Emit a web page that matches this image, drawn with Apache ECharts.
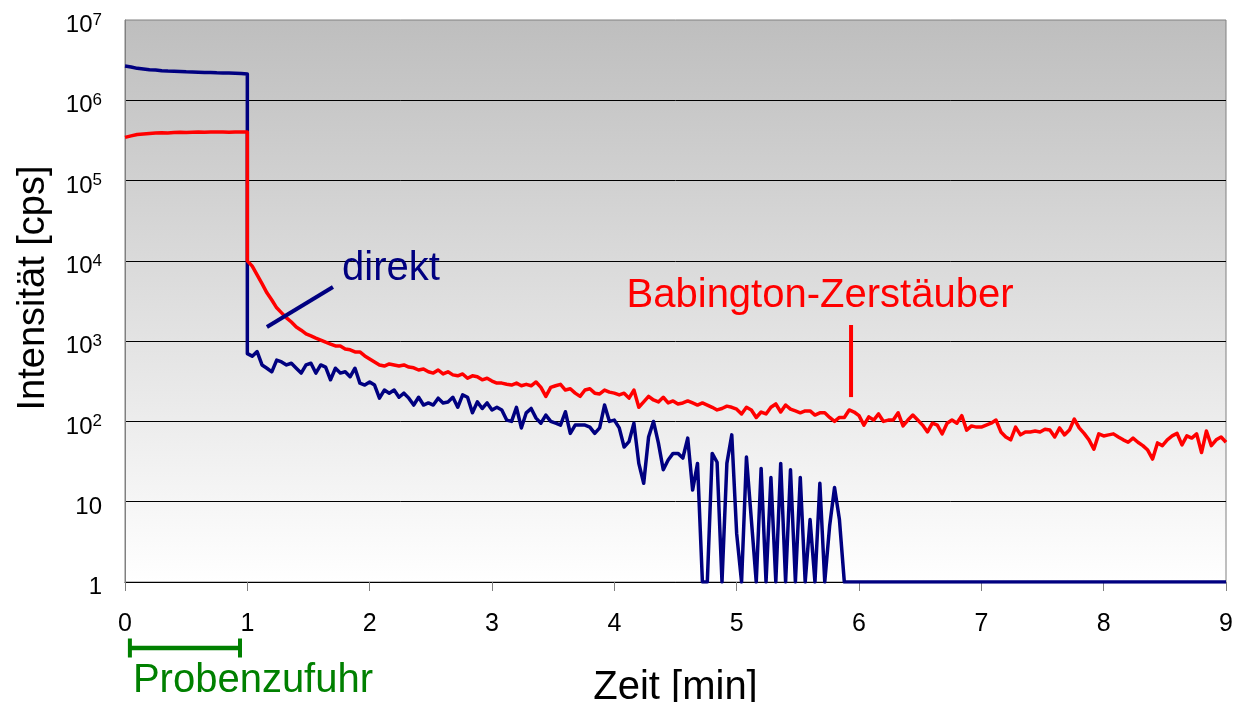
<!DOCTYPE html>
<html>
<head>
<meta charset="utf-8">
<title>Intensität – Auswaschverhalten</title>
<script src="https://cdn.jsdelivr.net/npm/echarts@6/dist/echarts.min.js"></script>
<style>
  html, body { margin: 0; padding: 0; background: #ffffff; }
  #chart { width: 1246px; height: 702px; }
</style>
</head>
<body>
<div id="chart"></div>
<script>
// Sampling grids in minutes: supply phase 0–1 min, wash-out phase 1–9 min
const plateauStep = 0.05;
const tailStep = 0.04;

// Intensities [cps] during sample supply (t = 0 … 1.0 min)
const direktPlateau = [
  2.67e6, 2.60e6, 2.50e6, 2.45e6, 2.40e6, 2.38e6, 2.33e6, 2.31e6, 2.30e6, 2.28e6,
  2.26e6, 2.25e6, 2.24e6, 2.22e6, 2.22e6, 2.20e6, 2.19e6, 2.18e6, 2.17e6, 2.15e6,
  2.12e6
];
const babingtonPlateau = [
  3.45e5, 3.60e5, 3.75e5, 3.80e5, 3.85e5, 3.90e5, 3.95e5, 3.92e5, 3.97e5, 4.00e5,
  3.98e5, 4.00e5, 4.02e5, 4.00e5, 4.03e5, 4.02e5, 4.03e5, 4.00e5, 4.03e5, 4.02e5,
  4.02e5
];

// Intensities [cps] during wash-out (t = 1.0 … 9.0 min)
const direktTail = [
  700, 650, 740, 505, 460, 415, 580, 550, 505, 530,
  460, 400, 505, 530, 400, 505, 475, 330, 460, 400,
  415, 360, 460, 300, 284, 310, 284, 195, 246, 225,
  246, 200, 225, 195, 160, 200, 160, 170, 160, 195,
  170, 175, 200, 150, 214, 200, 128, 175, 145, 170,
  139, 150, 139, 104, 100, 150, 83, 128, 145, 110,
  95, 120, 100, 95, 90, 132, 71, 90, 90, 90,
  85, 71, 83, 160, 100, 104, 83, 48, 56, 95,
  30, 17, 64, 100, 54, 25, 33, 40, 40, 35,
  62, 14, 30, 1, 1, 40, 31, 1, 30, 68,
  4, 1, 36, 6, 1, 26, 1, 20, 1, 30,
  1, 25, 1, 20, 1, 6, 1, 17, 1, 5,
  15, 6, 1, 1, 1, 1, 1, 1, 1, 1,
  1, 1, 1, 1, 1, 1, 1, 1, 1, 1,
  1, 1, 1, 1, 1, 1, 1, 1, 1, 1,
  1, 1, 1, 1, 1, 1, 1, 1, 1, 1,
  1, 1, 1, 1, 1, 1, 1, 1, 1, 1,
  1, 1, 1, 1, 1, 1, 1, 1, 1, 1,
  1, 1, 1, 1, 1, 1, 1, 1, 1, 1,
  1, 1, 1, 1, 1, 1, 1, 1, 1, 1,
  1
];
const babingtonTail = [
  10000, 8600, 6700, 5200, 4000, 3250, 2600, 2250, 1950, 1730,
  1500, 1370, 1230, 1160, 1090, 1030, 970, 920, 870, 870,
  800, 780, 735, 735, 655, 600, 550, 505, 490, 520,
  505, 490, 505, 475, 465, 437, 450, 415, 400, 437,
  390, 415, 380, 370, 390, 345, 370, 360, 330, 345,
  318, 300, 300, 290, 284, 300, 278, 290, 278, 310,
  265, 205, 265, 278, 290, 246, 255, 225, 205, 246,
  255, 225, 220, 246, 232, 225, 214, 225, 195, 246,
  150, 175, 205, 185, 175, 200, 170, 180, 165, 170,
  180, 170, 160, 170, 160, 150, 139, 145, 155, 150,
  142, 124, 150, 139, 112, 131, 124, 150, 165, 131,
  160, 142, 135, 128, 135, 135, 120, 128, 128, 112,
  100, 112, 112, 139, 131, 118, 90, 114, 104, 124,
  100, 104, 104, 128, 88, 104, 120, 104, 90, 74,
  95, 90, 70, 95, 104, 95, 118, 78, 88, 85,
  85, 90, 95, 104, 74, 64, 59, 85, 68, 74,
  74, 76, 74, 80, 78, 64, 83, 68, 78, 107,
  83, 71, 59, 45, 70, 66, 68, 70, 64, 59,
  55, 62, 55, 50, 44, 34, 54, 50, 59, 66,
  71, 51, 66, 62, 70, 41, 76, 50, 59, 64,
  55
];

// Axis tick labels
const xTickLabels = ['0', '1', '2', '3', '4', '5', '6', '7', '8', '9'];
const yTickLabels = ['1', '10', '10{sup|2}', '10{sup|3}', '10{sup|4}', '10{sup|5}', '10{sup|6}', '10{sup|7}'];

// Text labels
const seriesNames = ['direkt', 'Babington-Zerstäuber'];
const supplyLabel = 'Probenzufuhr';
const xAxisTitle = 'Zeit [min]';
const yAxisTitle = 'Intensität [cps]';

// Build [time, intensity] pairs from the two phases
function toPairs(plateau, tail) {
  const pts = plateau.map((v, i) => [+(i * plateauStep).toFixed(3), v]);
  tail.forEach((v, k) => pts.push([+(1 + k * tailStep).toFixed(3), v]));
  return pts;
}

const FONT = '"Liberation Sans", Arial, Helvetica, sans-serif';
const NAVY = '#000080';
const RED = '#ff0000';
const GREEN = '#008000';

const chart = echarts.init(document.getElementById('chart'), null, { renderer: 'canvas' });

const option = {
  animation: false,
  textStyle: { fontFamily: FONT },
  grid: {
    left: 125, right: 20, top: 20, bottom: 120,
    outerBoundsMode: 'none',
    containLabel: false,
    show: true,
    borderColor: '#808080',
    borderWidth: 1,
    backgroundColor: new echarts.graphic.LinearGradient(0, 0, 0, 1, [
      { offset: 0, color: '#bebebe' },
      { offset: 1, color: '#ffffff' }
    ])
  },
  xAxis: {
    type: 'value',
    min: 0, max: 9, interval: 1,
    axisLine: { show: true, onZero: false, lineStyle: { color: '#000000', width: 1 } },
    axisTick: { show: true, length: 9, lineStyle: { color: '#808080', width: 1 } },
    axisLabel: {
      color: '#000000', fontSize: 25, margin: 30, fontFamily: FONT,
      formatter: v => xTickLabels[Math.round(v)]
    },
    splitLine: { show: false },
    name: xAxisTitle,
    nameLocation: 'middle',
    nameGap: 86,
    nameTextStyle: { color: '#000000', fontSize: 40, fontFamily: FONT, verticalAlign: 'top' }
  },
  yAxis: {
    type: 'log',
    logBase: 10,
    min: 1, max: 1e7,
    axisLine: { show: true, lineStyle: { color: '#808080', width: 1 } },
    axisTick: { show: false },
    splitLine: { show: true, showMaxLine: false, lineStyle: { color: '#000000', width: 1 } },
    axisLabel: {
      color: '#000000', fontSize: 24, margin: 23, fontFamily: FONT,
      lineHeight: 28,
      padding: [11, 0, 0, 0],
      formatter: v => yTickLabels[Math.round(Math.log10(v))],
      rich: {
        sup: { fontSize: 17, lineHeight: 17, verticalAlign: 'top', color: '#000000', fontFamily: FONT }
      }
    },
    name: yAxisTitle,
    nameLocation: 'middle',
    nameGap: 72,
    nameTextStyle: { color: '#000000', fontSize: 38, fontFamily: FONT, padding: [0, 0, 0, 26] }
  },
  series: [
    {
      name: seriesNames[0],
      type: 'line',
      data: toPairs(direktPlateau, direktTail),
      showSymbol: false,
      lineStyle: { color: NAVY, width: 3.5, join: 'round' },
      itemStyle: { color: NAVY },
      z: 2
    },
    {
      name: seriesNames[1],
      type: 'line',
      data: toPairs(babingtonPlateau, babingtonTail),
      showSymbol: false,
      lineStyle: { color: RED, width: 3.5, join: 'round' },
      itemStyle: { color: RED },
      z: 3
    }
  ]
};
chart.setOption(option);

// Annotations placed in data coordinates [min, cps]
const annot = {
  direktText: [1.774, 7900],
  direktLeader: [[1.16, 1500], [1.70, 4720]],
  babingtonText: [4.10, 3650],
  babingtonLeader: [[5.935, 1590], [5.935, 201]],
  supplySpan: [0.04, 0.94]
};

function px(p) { return chart.convertToPixel({ gridIndex: 0 }, p); }

function drawAnnotations() {
  const dT = px(annot.direktText);
  const d0 = px(annot.direktLeader[0]);
  const d1 = px(annot.direktLeader[1]);
  const bT = px(annot.babingtonText);
  const b0 = px(annot.babingtonLeader[0]);
  const b1 = px(annot.babingtonLeader[1]);
  const s0 = px([annot.supplySpan[0], 1]);
  const s1 = px([annot.supplySpan[1], 1]);
  const axisY = s0[1];
  const barY = axisY + 66;

  chart.setOption({
    graphic: [
      { type: 'line', z: 10, shape: { x1: d0[0], y1: d0[1], x2: d1[0], y2: d1[1] },
        style: { stroke: NAVY, lineWidth: 4 } },
      { type: 'text', z: 10, x: dT[0], y: dT[1],
        style: { text: seriesNames[0], fill: NAVY, font: '40px ' + FONT, align: 'left', verticalAlign: 'middle' } },
      { type: 'line', z: 10, shape: { x1: b0[0], y1: b0[1], x2: b1[0], y2: b1[1] },
        style: { stroke: RED, lineWidth: 4 } },
      { type: 'text', z: 10, x: bT[0], y: bT[1],
        style: { text: seriesNames[1], fill: RED, font: '40px ' + FONT, align: 'left', verticalAlign: 'middle' } },
      { type: 'line', z: 10, shape: { x1: s0[0], y1: barY, x2: s1[0], y2: barY },
        style: { stroke: GREEN, lineWidth: 4.5 } },
      { type: 'line', z: 10, shape: { x1: s0[0], y1: barY - 9.5, x2: s0[0], y2: barY + 9.5 },
        style: { stroke: GREEN, lineWidth: 4 } },
      { type: 'line', z: 10, shape: { x1: s1[0], y1: barY - 9.5, x2: s1[0], y2: barY + 9.5 },
        style: { stroke: GREEN, lineWidth: 4 } },
      { type: 'text', z: 10, x: s0[0] + 3, y: barY + 33,
        style: { text: supplyLabel, fill: GREEN, font: '40px ' + FONT, align: 'left', verticalAlign: 'middle' } }
    ]
  });
}
drawAnnotations();
</script>
</body>
</html>
